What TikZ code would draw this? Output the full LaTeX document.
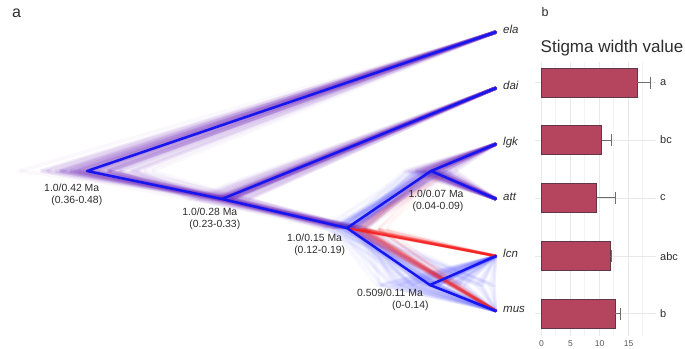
\documentclass[tikz,border=0pt]{standalone}
\usepackage{fontspec}
\setmainfont{Liberation Sans}
\definecolor{treeblue}{RGB}{22,22,240}
\definecolor{hazepurple}{RGB}{115,45,185}
\definecolor{hazeblue}{RGB}{80,80,255}
\definecolor{hazered}{RGB}{245,30,30}
\definecolor{barfill}{RGB}{181,68,95}
\definecolor{barline}{RGB}{95,55,70}
\definecolor{gridmaj}{RGB}{232,232,232}
\definecolor{gridmin}{RGB}{243,243,243}
\definecolor{txt}{RGB}{45,45,45}
\definecolor{ticktxt}{RGB}{85,85,85}
\definecolor{errc}{RGB}{110,110,110}
\begin{document}
\begin{tikzpicture}[x=1pt,y=-1pt,
  hazeP/.style={draw=hazepurple,line width=3.6pt,opacity=0.035},
  hazeB/.style={draw=hazeblue,line width=3pt,opacity=0.035},
  hazeR/.style={draw=hazered,line width=2.6pt,opacity=0.05},
  mainline/.style={draw=treeblue,line width=2.5pt,line cap=round,line join=round},
  redline/.style={draw=hazered,line width=1.8pt,opacity=0.85},
  agelab/.style={font=\fontsize{10.4}{12}\selectfont,text=txt,inner sep=0pt},
  tiplab/.style={font=\fontsize{11.5}{13}\selectfont\itshape,text=txt,inner sep=0pt,anchor=base west},
  panellab/.style={font=\fontsize{16}{18}\selectfont,text=txt,inner sep=0pt,anchor=base west},
  barbox/.style={fill=barfill,draw=barline,line width=0.6pt},
  errbar/.style={draw=errc,line width=0.8pt},
  siglab/.style={font=\fontsize{11}{13}\selectfont,text=txt,inner sep=0pt,anchor=west},
  ticklab/.style={font=\fontsize{8.5}{10}\selectfont,text=ticktxt,inner sep=0pt}]
\useasboundingbox (0,0) rectangle (685,348);
% ---------- tree coordinates ----------
\coordinate (R) at (87,171);
\coordinate (N2) at (222,199);
\coordinate (N3) at (347,228);
\coordinate (N4) at (431,171);
\coordinate (N5) at (430,285);
\coordinate (ela) at (496,32);
\coordinate (dai) at (496,88);
\coordinate (lgk) at (496,144);
\coordinate (att) at (496,199);
\coordinate (lcn) at (496,256);
\coordinate (mus) at (496,311);
% ---------- haze of sampled trees ----------
\pgfmathsetseed{5}
\foreach \k in {1,...,110}{
  \pgfmathsetmacro\xb{222+13*(rand+rand+rand)}
  \pgfmathsetmacro\xr{min(87+26*(rand+rand+rand),\xb-10)}
  \pgfmathsetmacro\xc{max(347+10*(rand+rand+rand),\xb+10)}
  \pgfmathsetmacro\xd{min(431+11*(rand+rand+rand),488)}
  \pgfmathsetmacro\xe{max(min(430+30*(rand+rand+rand),494),\xc+5)}
  \draw[hazeP] (\xr,171) -- (ela);
  \draw[hazeP] (\xr,171) -- (\xb,199) -- (dai);
  \draw[hazeP] (\xb,199) -- (\xc,228);
  \draw[hazeB] (\xc,228) -- (\xd,171);
  \draw[hazeP] (\xd,171) -- (lgk);
  \draw[hazeP] (\xd,171) -- (att);
  \draw[hazeB] (\xc,228) -- (\xe,285) -- (lcn);
  \draw[hazeB] (\xe,285) -- (mus);
}
\foreach \k in {1,...,40}{
  \pgfmathsetmacro\xa{347+22*abs(rand+rand)}
  \pgfmathsetmacro\xf{431+12*(rand+rand)}
  \draw[hazeR] (\xa,229) -- (lcn);
  \draw[hazeR] (\xa,229) -- (mus);
  \draw[hazeR,opacity=0.025] (\xa,229) -- (\xf,176);
}
% ---------- main tree ----------
\draw[redline] (N3) -- (lcn);
\draw[mainline] (ela) -- (R) -- (N2) -- (N3) -- (N5) -- (mus);
\draw[mainline] (N2) -- (dai);
\draw[mainline] (N3) -- (N4) -- (lgk);
\draw[mainline] (N4) -- (att);
\draw[mainline] (N5) -- (lcn);
% ---------- labels ----------
\node[panellab] (pa) at (12,17) {a};
\node[agelab] (l1a) at (71.7,187.7) {1.0/0.42 Ma};
\node[agelab] (l1b) at (76.8,201.3) {(0.36-0.48)};
\node[agelab] (l2a) at (209.8,211.3) {1.0/0.28 Ma};
\node[agelab] (l2b) at (214.8,225.3) {(0.23-0.33)};
\node[agelab] (l3a) at (314.5,237.3) {1.0/0.15 Ma};
\node[agelab] (l3b) at (319.7,250.7) {(0.12-0.19)};
\node[agelab] (l4a) at (436,193.3) {1.0/0.07 Ma};
\node[agelab] (l4b) at (438,207) {(0.04-0.09)};
\node[agelab] (l5a) at (390,292.7) {0.509/0.11 Ma};
\node[agelab] (l5b) at (410.3,306) {(0-0.14)};
\node[tiplab] (tela) at ([xshift=7pt,yshift=-1pt]ela) {ela};
\node[tiplab] (tdai) at ([xshift=7pt,yshift=-1pt]dai) {dai};
\node[tiplab] (tlgk) at ([xshift=7pt,yshift=-1.5pt]lgk) {lgk};
\node[tiplab] (tatt) at ([xshift=7pt,yshift=-1.5pt]att) {att};
\node[tiplab] (tlcn) at ([xshift=7pt,yshift=-1.5pt]lcn) {lcn};
\node[tiplab] (tmus) at ([xshift=7pt,yshift=-1.5pt]mus) {mus};
% ---------- panel b ----------
\node[panellab,font=\fontsize{12.5}{14}\selectfont] (pb) at (541.5,16.7) {b};
\node[panellab,font=\fontsize{17}{19}\selectfont] (title) at (540.5,52.3) {Stigma width value};
\foreach \v in {2.5,7.5,12.5,17.5}{
  \draw[gridmin,line width=0.5pt] (541+5.8*\v,62) -- (541+5.8*\v,336);
}
\foreach \v in {0,5,10,15}{
  \draw[gridmaj,line width=0.6pt] (541+5.8*\v,62) -- (541+5.8*\v,336);
  \node[ticklab] (tick\v) at (541.5+5.8*\v,343.7) {\v};
}
\foreach \yc/\xe/\xr/\lab [count=\i] in {82.5/637.3/650/a,140/601.7/611.7/bc,197.8/596.7/615.7/c,256.2/610/611/abc,313.7/615/620.7/b}{
  \draw[gridmaj,line width=0.6pt] (535,\yc) -- (656,\yc);
  \draw[barbox] (541,\yc-14.5) rectangle (\xe,\yc+14.5);
  \draw[errbar] (\xe,\yc) -- (\xr,\yc);
  \draw[errbar] (\xr,\yc-6) -- (\xr,\yc+6);
  \node[siglab] (sig\i) at (660,\yc) {\lab};
}
\end{tikzpicture}
\end{document}
